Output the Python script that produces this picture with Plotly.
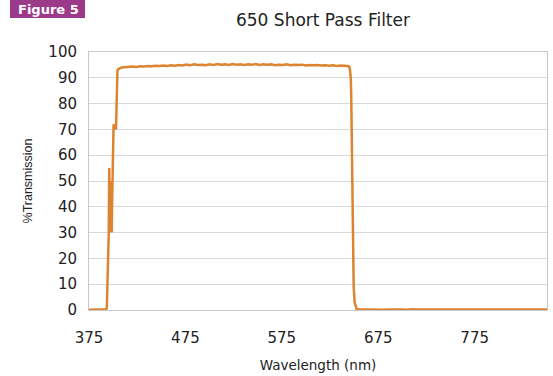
import plotly.graph_objects as go

# ---- data ----
wl_edge_lo = [375, 380, 385, 390, 392, 393, 393.5, 394.5, 395.5, 396, 396.5, 397, 397.5, 398, 398.5,
              399, 400, 400.5, 401.5, 402, 403, 404, 404.5, 405.5, 407, 409]
tr_edge_lo = [0.1, 0.1, 0.1, 0.1, 0.2, 0.3, 1.0, 12, 30, 55, 33, 50, 30, 46, 30,
              42, 56, 72, 70, 72, 70, 90, 92.8, 93.4, 93.8, 94.0]

wl_plateau = list(range(412, 644, 4))
tr_plateau = [94.1, 94.3, 94.4, 94.2, 94.5, 94.4, 94.6, 94.5, 94.7, 94.6, 94.8, 94.6, 94.9, 94.7,
              95.0, 94.8, 95.1, 94.9, 95.2, 95.0, 95.1, 94.9, 95.2, 95.0, 95.3, 95.1, 95.2, 95.0,
              95.3, 95.1, 95.2, 95.0, 95.2, 95.1, 95.3, 95.0, 95.2, 95.1, 95.2, 94.9, 95.1, 95.0,
              95.2, 94.9, 95.1, 95.0, 95.1, 94.8, 95.0, 94.9, 95.0, 94.8, 94.9, 94.7, 94.9, 94.6,
              94.8, 94.7]

wl_edge_hi = [644.5, 645.5, 646.5, 647, 647.5, 648, 648.5, 649, 649.5, 650.5, 651.5, 652.5]
tr_edge_hi = [94.5, 93.5, 90, 82, 68, 50, 34, 20, 9, 3, 1, 0.4]

wl_tail = list(range(655, 851, 5))
tr_tail = [0.3, 0.2, 0.2, 0.3, 0.2, 0.1, 0.2, 0.3, 0.2, 0.2, 0.1, 0.3, 0.2, 0.2, 0.3, 0.2,
           0.1, 0.2, 0.3, 0.2, 0.2, 0.3, 0.1, 0.2, 0.2, 0.3, 0.2, 0.2, 0.3, 0.1, 0.2, 0.2,
           0.3, 0.2, 0.2, 0.1, 0.2, 0.3, 0.2, 0.2]

wavelength = wl_edge_lo + wl_plateau + wl_edge_hi + wl_tail
transmission = tr_edge_lo + tr_plateau + tr_edge_hi + tr_tail

x_ticks = [375, 475, 575, 675, 775]
y_ticks = list(range(0, 101, 10))

title_text = "650 Short Pass Filter"
x_title = "Wavelength (nm)"
y_title = "%Transmission"
badge_text = "Figure 5"

# ---- figure ----
W, H = 553, 376
L, R, T, B = 89, 6, 52, 66
pw, ph = W - L - R, H - T - B

def px_x(p):
    return (p - L) / pw

def px_y(p):
    return (H - B - p) / ph

fig = go.Figure()
fig.add_trace(go.Scatter(x=wavelength, y=transmission, mode="lines",
                         line=dict(color="#dc8431", width=2.5), showlegend=False))

fig.update_layout(
    width=W, height=H,
    margin=dict(l=L, r=R, t=T, b=B),
    paper_bgcolor="white", plot_bgcolor="white",
    font=dict(family="DejaVu Sans", color="#222222"),
    title=dict(text=title_text, x=px_x(323), xref="paper", xanchor="center",
               y=1 - 20 / H, yref="container", yanchor="middle",
               font=dict(size=17, color="#222222", family="DejaVu Sans")),
)

fig.update_xaxes(range=[375, 850], tickvals=x_ticks, ticktext=[str(v) for v in x_ticks],
                 showgrid=False, showline=True, linecolor="#c8c8c8", linewidth=1, mirror=True,
                 ticks="outside", ticklen=14, tickcolor="rgba(0,0,0,0)",
                 tickfont=dict(size=15, color="#222222"), automargin=False,
                 title=dict(text=x_title, font=dict(size=13.5, color="#222222"), standoff=14),
                 zeroline=False)
fig.update_yaxes(range=[0, 100], tickvals=y_ticks,
                 showgrid=True, gridcolor="#d9d9d9", gridwidth=1,
                 showline=True, linecolor="#c8c8c8", linewidth=1, mirror=True,
                 ticks="outside", ticklen=8, tickcolor="rgba(0,0,0,0)",
                 tickfont=dict(size=15, color="#222222"), automargin=False,
                 title=dict(text=y_title, font=dict(size=12.5, family="Liberation Sans", color="#222222"),
                            standoff=12),
                 zeroline=False)

# Figure badge
fig.add_shape(type="rect", xref="paper", yref="paper",
              x0=px_x(10), x1=px_x(85), y0=px_y(18), y1=px_y(0),
              fillcolor="#9c3a8a", line=dict(width=0), layer="above")
fig.add_annotation(text="<b>" + badge_text + "</b>", xref="paper", yref="paper",
                   x=px_x(48), y=px_y(9.5), xanchor="center", yanchor="middle",
                   showarrow=False, font=dict(size=13, color="white", family="DejaVu Sans"))

fig.write_html("out.html")
